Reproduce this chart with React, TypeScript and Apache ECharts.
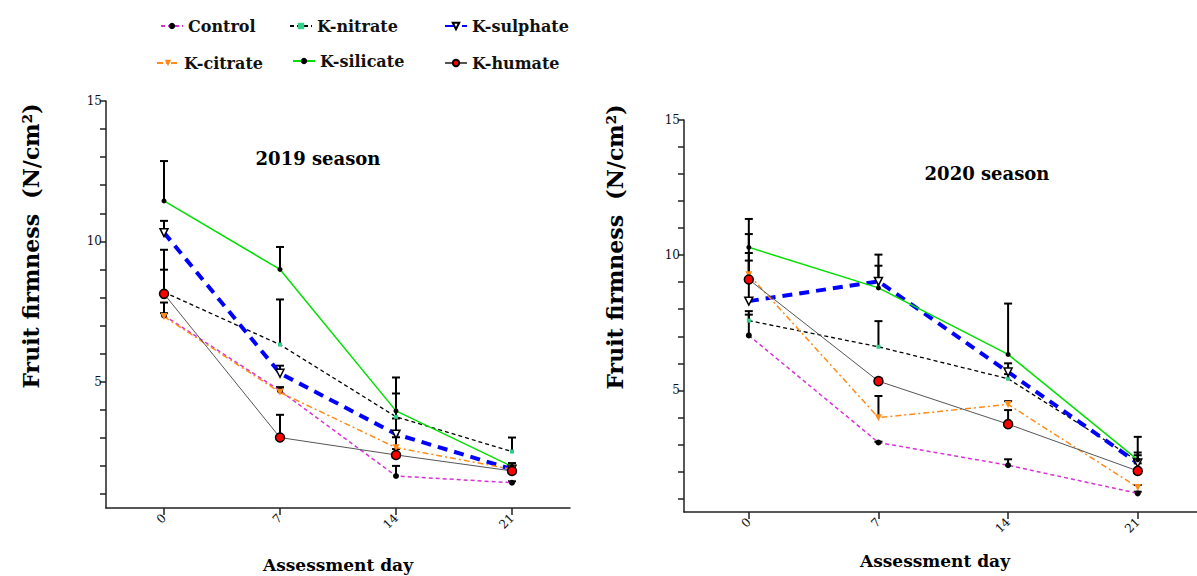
import React, { useEffect, useRef } from "react";
import * as echarts from "echarts";

const days = [0, 7, 14, 21];
const treatments = ["Control", "K-nitrate", "K-sulphate", "K-citrate", "K-silicate", "K-humate"];
const yTickValues = [1, 2, 3, 4, 5, 6, 7, 8, 9, 10, 11, 12, 13, 14, 15];
const yLabelValues = [5, 10, 15];

// 2019 season means and error-bar tops
const control2019 = [7.36, 4.68, 1.64, 1.4];
const control2019Top = [7.82, 4.8, 2.0, 1.45];
const nitrate2019 = [8.19, 6.32, 3.75, 2.51];
const nitrate2019Top = [8.99, 7.93, 4.58, 3.01];
const sulphate2019 = [10.31, 5.3, 3.13, 1.88];
const sulphate2019Top = [10.73, 5.57, 3.69, 2.0];
const citrate2019 = [7.32, 4.62, 2.65, 1.88];
const citrate2019Top = [7.44, 4.8, 3.02, 1.95];
const silicate2019 = [11.44, 9.0, 3.96, 1.98];
const silicate2019Top = [12.86, 9.8, 5.15, 2.1];
const humate2019 = [8.13, 3.01, 2.39, 1.82];
const humate2019Top = [9.7, 3.82, 2.6, 1.9];

// 2020 season means and error-bar tops
const control2020 = [7.03, 3.07, 2.23, 1.19];
const control2020Top = [7.8, 3.1, 2.45, 1.25];
const nitrate2020 = [7.58, 6.61, 5.43, 2.39];
const nitrate2020Top = [7.93, 7.56, 5.6, 2.6];
const sulphate2020 = [8.3, 9.03, 5.68, 2.31];
const sulphate2020Top = [9.8, 9.61, 6.0, 2.7];
const citrate2020 = [9.28, 3.99, 4.48, 1.41];
const citrate2020Top = [10.08, 4.79, 4.6, 1.5];
const silicate2020 = [10.29, 8.79, 6.33, 2.43];
const silicate2020Top = [11.34, 10.02, 8.21, 3.28];
const humate2020 = [9.1, 5.34, 3.75, 2.02];
const humate2020Top = [10.78, 5.45, 4.27, 2.3];

const means2019 = [control2019, nitrate2019, sulphate2019, citrate2019, silicate2019, humate2019];
const tops2019 = [control2019Top, nitrate2019Top, sulphate2019Top, citrate2019Top, silicate2019Top, humate2019Top];
const means2020 = [control2020, nitrate2020, sulphate2020, citrate2020, silicate2020, humate2020];
const tops2020 = [control2020Top, nitrate2020Top, sulphate2020Top, citrate2020Top, silicate2020Top, humate2020Top];

const SERIF = '"DejaVu Serif", serif';

const styles: Record<string, any> = {
  Control: {
    symbol: "circle",
    symbolSize: 6,
    itemStyle: { color: "#000" },
    lineStyle: { color: "#d633d6", width: 1.5, type: [4, 3] },
  },
  "K-nitrate": {
    symbol: "rect",
    symbolSize: 4,
    itemStyle: { color: "#2fd08a" },
    lineStyle: { color: "#000", width: 1.3, type: [4, 3] },
  },
  "K-sulphate": {
    symbol: "triangle",
    symbolRotate: 180,
    symbolSize: 8,
    itemStyle: { color: "#fff", borderColor: "#000", borderWidth: 1.5 },
    lineStyle: { color: "#0000ff", width: 4, type: [10, 7] },
  },
  "K-citrate": {
    symbol: "triangle",
    symbolRotate: 180,
    symbolSize: 7,
    itemStyle: { color: "#ff8c1a" },
    lineStyle: { color: "#ff8c1a", width: 1.5, type: [6, 3, 2, 3] },
  },
  "K-silicate": {
    symbol: "circle",
    symbolSize: 5,
    itemStyle: { color: "#000" },
    lineStyle: { color: "#00e000", width: 1.5 },
  },
  "K-humate": {
    symbol: "circle",
    symbolSize: 9,
    itemStyle: { color: "#ff0000", borderColor: "#000", borderWidth: 1.5 },
    lineStyle: { color: "#555", width: 1 },
  },
};

function errorRender(params: any, api: any) {
  const x = api.value(0);
  const y = api.value(1);
  const top = api.value(2);
  const p1 = api.coord([x, y]);
  const p2 = api.coord([x, top]);
  return {
    type: "group",
    children: [
      { type: "line", shape: { x1: p1[0], y1: p1[1], x2: p2[0], y2: p2[1] }, style: { stroke: "#000", lineWidth: 2 } },
      { type: "line", shape: { x1: p2[0] - 4, y1: p2[1], x2: p2[0] + 4, y2: p2[1] }, style: { stroke: "#000", lineWidth: 2 } },
    ],
  };
}

function makeAxes(idx: number, xMax: number) {
  const xAxis = {
    type: "value",
    gridIndex: idx,
    min: -3.5,
    max: xMax,
    splitLine: { show: false },
    axisLine: { onZero: false, lineStyle: { color: "#222", width: 1.5 } },
    axisTick: { customValues: days, length: 7, lineStyle: { color: "#222", width: 1.5 } },
    axisLabel: { customValues: days, rotate: 45, fontFamily: SERIF, fontSize: 12, color: "#111", margin: 8 },
  };
  const yAxis = {
    type: "value",
    gridIndex: idx,
    min: 0.5,
    max: 15,
    splitLine: { show: false },
    axisLine: { onZero: false, lineStyle: { color: "#222", width: 1.5 } },
    axisTick: { customValues: yTickValues, length: 6, lineStyle: { color: "#222", width: 1.5 } },
    axisLabel: { customValues: yLabelValues, fontFamily: SERIF, fontSize: 12, color: "#111", margin: 4 },
  };
  return { xAxis, yAxis };
}

export default function App() {
  const ref = useRef<HTMLDivElement>(null);
  useEffect(() => {
    if (!ref.current) return;
    const chart = echarts.init(ref.current, undefined, { renderer: "svg" });
    const a0 = makeAxes(0, 24.5);
    const a1 = makeAxes(1, 24.2);

    const series: any[] = [];
    [means2019, means2020].forEach((means, gi) => {
      const tops = gi === 0 ? tops2019 : tops2020;
      treatments.forEach((name, ti) => {
        series.push({
          type: "line",
          name: name,
          xAxisIndex: gi,
          yAxisIndex: gi,
          z: 3,
          showSymbol: true,
          data: days.map((d, i) => [d, means[ti][i]]),
          ...styles[name],
        });
      });
      treatments.forEach((name, ti) => {
        series.push({
          type: "custom",
          name: "err " + name + " " + gi,
          xAxisIndex: gi,
          yAxisIndex: gi,
          z: 1,
          renderItem: errorRender,
          data: days.map((d, i) => [d, means[ti][i], tops[ti][i]]),
          encode: { x: 0, y: [1, 2] },
          silent: true,
        });
      });
    });

    const legendBase = {
      itemWidth: 22,
      itemHeight: 8,
      textStyle: { fontFamily: SERIF, fontWeight: "bold", fontSize: 16, color: "#111" },
      selectedMode: false,
    };
    const legendPos: [string, number, number][] = [
      ["Control", 155, 13],
      ["K-nitrate", 284, 13],
      ["K-sulphate", 439, 13],
      ["K-citrate", 151, 50],
      ["K-silicate", 287, 48],
      ["K-humate", 439, 50],
    ];

    chart.setOption({
      animation: false,
      backgroundColor: "#fff",
      grid: [
        { left: 106, top: 101, width: 464, height: 407 },
        { left: 684, top: 120, width: 513, height: 392 },
      ],
      xAxis: [a0.xAxis, a1.xAxis],
      yAxis: [a0.yAxis, a1.yAxis],
      legend: legendPos.map(([n, l, t]) => ({ ...legendBase, data: [n], left: l, top: t })),
      graphic: [
        { type: "text", x: 318, y: 158, style: { text: "2019 season", font: `bold 18px ${SERIF}`, align: "center", verticalAlign: "middle", fill: "#000" } },
        { type: "text", x: 987, y: 173, style: { text: "2020 season", font: `bold 18px ${SERIF}`, align: "center", verticalAlign: "middle", fill: "#000" } },
        { type: "text", x: 31, y: 246, rotation: Math.PI / 2, style: { text: "Fruit firmness  (N/cm²)", font: `bold 22px ${SERIF}`, align: "center", verticalAlign: "middle", fill: "#000" } },
        { type: "text", x: 615, y: 247, rotation: Math.PI / 2, style: { text: "Fruit firmness  (N/cm²)", font: `bold 22px ${SERIF}`, align: "center", verticalAlign: "middle", fill: "#000" } },
        { type: "text", x: 338, y: 565, style: { text: "Assessment day", font: `bold 17px ${SERIF}`, align: "center", verticalAlign: "middle", fill: "#000" } },
        { type: "text", x: 935, y: 561, style: { text: "Assessment day", font: `bold 17px ${SERIF}`, align: "center", verticalAlign: "middle", fill: "#000" } },
      ],
      series,
    });
    return () => chart.dispose();
  }, []);
  return <div ref={ref} style={{ position: "absolute", left: 0, top: 0, width: 1197, height: 576 }} />;
}
